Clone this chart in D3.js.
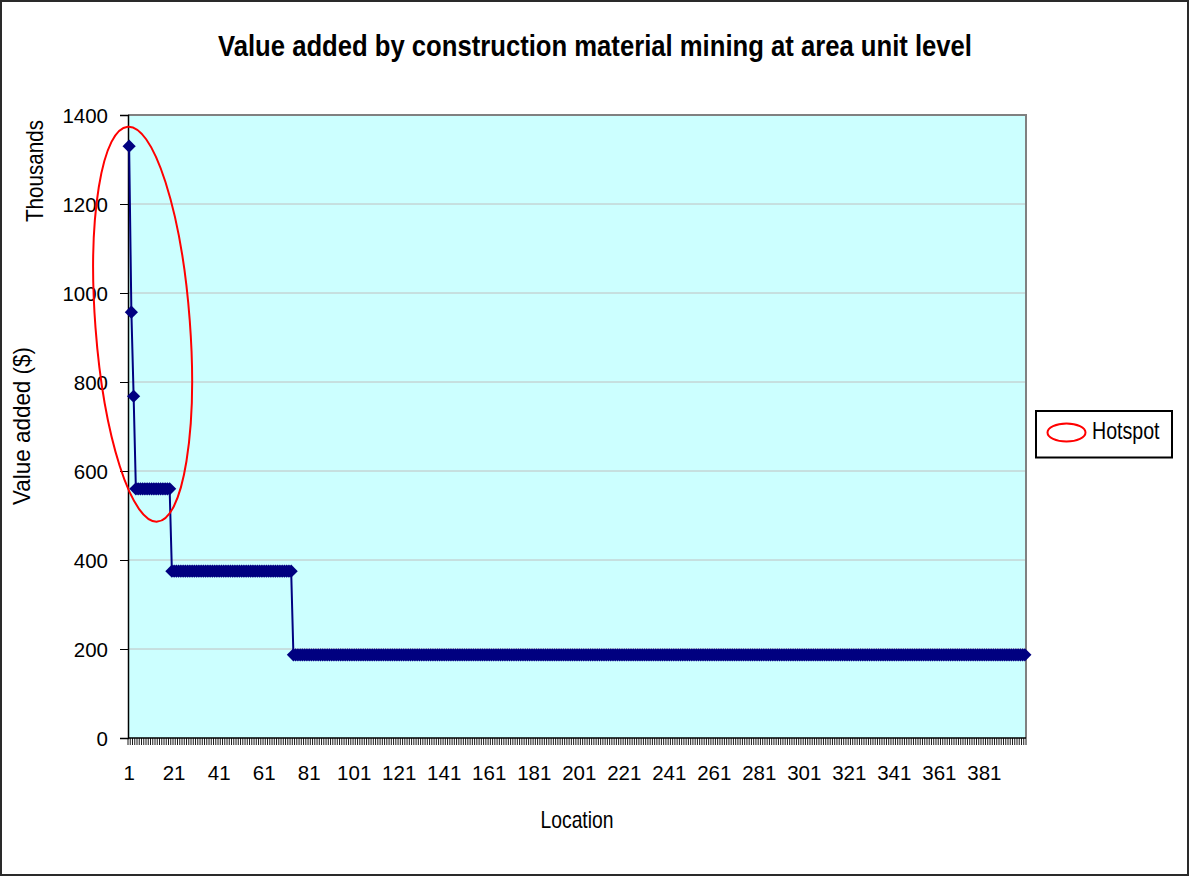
<!DOCTYPE html>
<html>
<head>
<meta charset="utf-8">
<script src="https://cdn.jsdelivr.net/npm/d3@7"></script>
<style>
  html, body { margin: 0; padding: 0; background: #fff; }
  svg text { font-family: "Liberation Sans Narrow", "Liberation Sans", Arial, sans-serif; fill: #000; }
</style>
</head>
<body>
<svg id="chart" width="1190" height="877"></svg>
<script>
// ---- data ----
const values = [
  1330, 957, 768,
  560,560,560,560,560,560,560,560,
  560,560,560,560,560,560,560,560,
  375,375,375,375,375,375,375,375,375,
  375,375,375,375,375,375,375,375,375,
  375,375,375,375,375,375,375,375,375,
  375,375,375,375,375,375,375,375,375,
  375,375,375,375,375,375,375,375,375,
  375,375,375,375,375,375,375,375,375,
  187,187,187,187,187,187,187,187,187,187, 187,187,187,187,187,187,187,187,187,187,
  187,187,187,187,187,187,187,187,187,187, 187,187,187,187,187,187,187,187,187,187,
  187,187,187,187,187,187,187,187,187,187, 187,187,187,187,187,187,187,187,187,187,
  187,187,187,187,187,187,187,187,187,187, 187,187,187,187,187,187,187,187,187,187,
  187,187,187,187,187,187,187,187,187,187, 187,187,187,187,187,187,187,187,187,187,
  187,187,187,187,187,187,187,187,187,187, 187,187,187,187,187,187,187,187,187,187,
  187,187,187,187,187,187,187,187,187,187, 187,187,187,187,187,187,187,187,187,187,
  187,187,187,187,187,187,187,187,187,187, 187,187,187,187,187,187,187,187,187,187,
  187,187,187,187,187,187,187,187,187,187, 187,187,187,187,187,187,187,187,187,187,
  187,187,187,187,187,187,187,187,187,187, 187,187,187,187,187,187,187,187,187,187,
  187,187,187,187,187,187,187,187,187,187, 187,187,187,187,187,187,187,187,187,187,
  187,187,187,187,187,187,187,187,187,187, 187,187,187,187,187,187,187,187,187,187,
  187,187,187,187,187,187,187,187,187,187, 187,187,187,187,187,187,187,187,187,187,
  187,187,187,187,187,187,187,187,187,187, 187,187,187,187,187,187,187,187,187,187,
  187,187,187,187,187,187,187,187,187,187, 187,187,187,187,187,187,187,187,187,187,
  187,187,187,187,187,187,187,187,187,187, 187,187,187,187,187,187,187,187,187,187,
  187,187,187,187,187,187
];
const categories = values.map((d, i) => i + 1);
const xTickLabels = [1, 21, 41, 61, 81, 101, 121, 141, 161, 181, 201, 221, 241, 261, 281, 301, 321, 341, 361, 381];
const yTicks = [0, 200, 400, 600, 800, 1000, 1200, 1400];
const titleText = "Value added by construction material mining at area unit level";
const xTitle = "Location";
const yTitle = "Value added ($)";
const yUnit = "Thousands";
const legendLabel = "Hotspot";
// hotspot annotation in data units: centre category, centre value, half-width (categories), half-height (value)
const hotspot = { cat: 7, value: 930, halfCats: 21, halfValue: 445, tilt: -4.3 };

// ---- layout ----
const svg = d3.select("#chart");
const W = 1190, H = 877;
const plot = { left: 128, right: 1026, top: 115, bottom: 738 };

const x = d3.scaleBand().domain(categories).range([plot.left, plot.right]).padding(0);
const y = d3.scaleLinear().domain([0, 1400]).range([plot.bottom, plot.top]);
const cx = c => x(c) + x.bandwidth() / 2;

// outer border
svg.append("rect").attr("x", 1).attr("y", 1).attr("width", W - 3).attr("height", H - 3)
  .attr("fill", "#fff").attr("stroke", "#2a2a2a").attr("stroke-width", 2);

// plot background
svg.append("rect")
  .attr("x", plot.left).attr("y", plot.top)
  .attr("width", plot.right - plot.left).attr("height", plot.bottom - plot.top)
  .attr("fill", "#CCFFFF");

// gridlines
svg.append("g").selectAll("line").data(yTicks.filter(d => d > 0 && d < 1400)).join("line")
  .attr("x1", plot.left).attr("x2", plot.right)
  .attr("y1", d => y(d)).attr("y2", d => y(d))
  .attr("stroke", "#c0c0c0").attr("stroke-width", 1);

// plot border top/right
svg.append("path")
  .attr("d", `M${plot.left},${y(1400)}H${plot.right}V${plot.bottom}`)
  .attr("fill", "none").attr("stroke", "#808080").attr("stroke-width", 2);

// y axis
const yAxis = d3.axisLeft(y).tickValues(yTicks).tickSize(8).tickPadding(0).tickFormat(d3.format("d"));
const gy = svg.append("g").attr("transform", `translate(${plot.left},0)`).call(yAxis);
gy.select(".domain").attr("stroke", "#000").attr("stroke-width", 1.5);
gy.selectAll(".tick line").attr("stroke", "#000").attr("stroke-width", 1);
gy.selectAll(".tick text").attr("x", -20).attr("dy", "0.36em")
  .style("font-family", "'Liberation Sans', Arial, sans-serif").style("font-size", "20.5px");

// x axis baseline
svg.append("line").attr("x1", plot.left).attr("x2", plot.right)
  .attr("y1", plot.bottom).attr("y2", plot.bottom)
  .attr("stroke", "#000").attr("stroke-width", 1.5);

// x tick marks at category boundaries
const boundaries = categories.map(c => x(c)).concat([x(categories[categories.length - 1]) + x.bandwidth()]);
svg.append("g").selectAll("line").data(boundaries).join("line")
  .attr("x1", d => d).attr("x2", d => d)
  .attr("y1", plot.bottom).attr("y2", plot.bottom + 7)
  .attr("stroke", "#000").attr("stroke-width", 0.9);

// x tick labels
svg.append("g").selectAll("text").data(xTickLabels).join("text")
  .attr("x", d => cx(d)).attr("y", 780)
  .attr("text-anchor", "middle")
  .style("font-family", "'Liberation Sans', Arial, sans-serif").style("font-size", "20.5px")
  .text(d => d);

// series line
const line = d3.line().x((d, i) => cx(categories[i])).y(d => y(d));
svg.append("path").datum(values).attr("d", line)
  .attr("fill", "none").attr("stroke", "#000080").attr("stroke-width", 2);

// diamond markers
const dm = 6.6;
svg.append("g").selectAll("path").data(values).join("path")
  .attr("d", `M0,${-dm}L${dm},0L0,${dm}L${-dm},0Z`)
  .attr("transform", (d, i) => `translate(${cx(categories[i])},${y(d)})`)
  .attr("fill", "#000080");

// hotspot ellipse (annotation)
const hx = cx(hotspot.cat), hy = y(hotspot.value);
svg.append("ellipse")
  .attr("cx", hx).attr("cy", hy)
  .attr("rx", hotspot.halfCats * x.bandwidth())
  .attr("ry", y(0) - y(hotspot.halfValue))
  .attr("transform", `rotate(${hotspot.tilt},${hx},${hy})`)
  .attr("fill", "none").attr("stroke", "#ff0000").attr("stroke-width", 2);

// title
svg.append("text").attr("x", 595).attr("y", 56).attr("text-anchor", "middle")
  .style("font-size", "29px").style("font-weight", "bold")
  .attr("textLength", 754).attr("lengthAdjust", "spacingAndGlyphs")
  .text(titleText);

// x title
svg.append("text").attr("x", 577).attr("y", 828).attr("text-anchor", "middle")
  .style("font-size", "24px")
  .attr("textLength", 73).attr("lengthAdjust", "spacingAndGlyphs")
  .text(xTitle);

// y title
svg.append("text").attr("transform", "translate(30,426) rotate(-90)").attr("text-anchor", "middle")
  .style("font-size", "24px")
  .attr("textLength", 158).attr("lengthAdjust", "spacingAndGlyphs")
  .text(yTitle);

// units label
svg.append("text").attr("transform", "translate(43,171) rotate(-90)").attr("text-anchor", "middle")
  .style("font-size", "24px")
  .attr("textLength", 102).attr("lengthAdjust", "spacingAndGlyphs")
  .text(yUnit);

// legend
const lg = svg.append("g");
lg.append("rect").attr("x", 1036).attr("y", 411).attr("width", 136).attr("height", 46.5)
  .attr("fill", "#fff").attr("stroke", "#000").attr("stroke-width", 2);
lg.append("ellipse").attr("cx", 1066.5).attr("cy", 432.5).attr("rx", 19).attr("ry", 9)
  .attr("fill", "none").attr("stroke", "#ff0000").attr("stroke-width", 2);
lg.append("text").attr("x", 1092).attr("y", 438.5)
  .style("font-size", "24px")
  .attr("textLength", 67.5).attr("lengthAdjust", "spacingAndGlyphs")
  .text(legendLabel);
</script>
</body>
</html>
